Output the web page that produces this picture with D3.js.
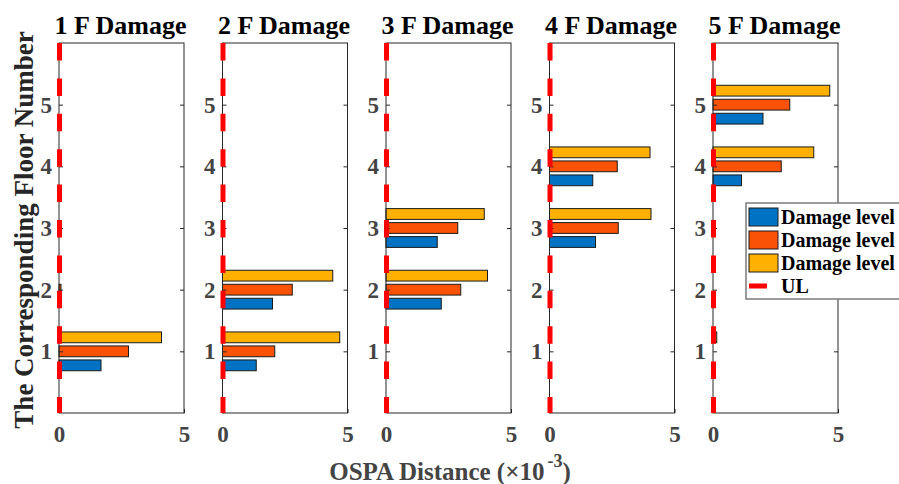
<!DOCTYPE html>
<html>
<head>
<meta charset="utf-8">
<script src="https://cdn.jsdelivr.net/npm/d3@7"></script>
<style>
  body { margin: 0; background: #fff; }
  svg { display: block; }
</style>
</head>
<body>
<div id="chart"></div>
<script>
'use strict';

var width = 899,
    height = 484;

// data
var panelTitles = ['1 F Damage', '2 F Damage', '3 F Damage', '4 F Damage', '5 F Damage'];
var floors = [1, 2, 3, 4, 5];
var levelNames = ['Damage level 1', 'Damage level 2', 'Damage level 3'];
// [panel][floor-1], OSPA distance x 1e-3
var level1 = [
    [1.68, 0, 0, 0, 0],
    [1.35, 2.00, 0, 0, 0],
    [0, 2.21, 2.05, 0, 0],
    [0, 0, 1.84, 1.73, 0],
    [0, 0, 0, 1.14, 2.00]
];
var level2 = [
    [2.78, 0.08, 0, 0, 0],
    [2.09, 2.79, 0, 0, 0],
    [0, 2.99, 2.87, 0, 0],
    [0, 0, 2.75, 2.71, 0],
    [0, 0, 0, 2.73, 3.07]
];
var level3 = [
    [4.10, 0, 0, 0, 0],
    [4.69, 4.41, 0, 0, 0],
    [0, 4.06, 3.93, 0, 0],
    [0, 0, 4.06, 4.02, 0],
    [0.15, 0, 0, 4.03, 4.67]
];
var ulValue = 0;
var xTicks = [0, 5];
var yTicks = [1, 2, 3, 4, 5];

var levels = [level1, level2, level3];
var colors = ['#0072c4', '#fa5206', '#ffb000'];
var serif = '"Liberation Serif", "Times New Roman", serif';

var svg = d3.select('#chart')
    .append('svg')
    .attr('width', width)
    .attr('height', height);

var plotTop = 43,
    plotBottom = 413,
    plotW = 125,
    firstLeft = 59,
    step = 163.5;

var y = d3.scaleLinear().domain([0, 6]).range([plotBottom, plotTop]);
var barOffset = 0.227,
    barH = y(0) - y(0.175);

panelTitles.forEach(function (title, p) {
    var left = firstLeft + p * step;
    var x = d3.scaleLinear().domain([0, 5]).range([left, left + plotW]);

    var g = svg.append('g');

    // bars
    levels.forEach(function (lv, k) {
        g.selectAll('rect.l' + k)
            .data(floors.filter(function (f) { return lv[p][f - 1] > 0; }))
            .enter()
            .append('rect')
            .attr('x', x(0))
            .attr('y', function (f) { return y(f + (k - 1) * barOffset) - barH / 2; })
            .attr('width', function (f) { return x(lv[p][f - 1]) - x(0); })
            .attr('height', barH)
            .attr('fill', colors[k])
            .attr('stroke', '#1a1a1a')
            .attr('stroke-width', 1);
    });

    // box
    g.append('rect')
        .attr('x', left)
        .attr('y', plotTop)
        .attr('width', plotW)
        .attr('height', plotBottom - plotTop)
        .attr('fill', 'none')
        .attr('stroke', '#262626')
        .attr('stroke-width', 1);

    // axes (ticks inside)
    var yl = g.append('g')
        .attr('transform', 'translate(' + left + ',0)')
        .call(d3.axisLeft(y).tickValues(yTicks).tickSize(-4).tickPadding(7).tickFormat(d3.format('d')));
    var yr = g.append('g')
        .attr('transform', 'translate(' + (left + plotW) + ',0)')
        .call(d3.axisRight(y).tickValues(yTicks).tickSize(-4).tickFormat(''));
    var xb = g.append('g')
        .attr('transform', 'translate(0,' + plotBottom + ')')
        .call(d3.axisBottom(x).tickValues(xTicks).tickSize(-4).tickPadding(13).tickFormat(d3.format('d')));

    [yl, yr, xb].forEach(function (a) {
        a.select('.domain').remove();
        a.selectAll('.tick line').attr('stroke', '#262626');
        a.selectAll('.tick text')
            .attr('fill', '#444')
            .style('font-family', serif)
            .style('font-weight', 'bold')
            .style('font-size', '23px');
    });

    // UL line
    g.append('line')
        .attr('x1', x(ulValue) + 0.5)
        .attr('x2', x(ulValue) + 0.5)
        .attr('y1', plotTop)
        .attr('y2', plotBottom)
        .attr('stroke', '#ff0000')
        .attr('stroke-width', 5)
        .attr('stroke-dasharray', '17.5,17.9');

    // title
    g.append('text')
        .attr('x', left + plotW / 2 - 1)
        .attr('y', 34)
        .attr('text-anchor', 'middle')
        .style('font-family', serif)
        .style('font-weight', 'bold')
        .style('font-size', '26px')
        .attr('fill', '#000')
        .text(title);
});

// axis labels
svg.append('text')
    .attr('transform', 'translate(33,' + ((plotTop + plotBottom) / 2 + 2) + ') rotate(-90)')
    .attr('text-anchor', 'middle')
    .style('font-family', serif)
    .style('font-weight', 'bold')
    .style('font-size', '27px')
    .attr('fill', '#262626')
    .text('The Corresponding Floor Number');

var xl = svg.append('text')
    .attr('x', 450)
    .attr('y', 480)
    .attr('text-anchor', 'middle')
    .style('font-family', serif)
    .style('font-weight', 'bold')
    .style('font-size', '25px')
    .attr('fill', '#444');
xl.append('tspan').text('OSPA Distance (\u00d710');
xl.append('tspan').attr('dy', -13).attr('dx', 3).style('font-size', '18px').text('-3');
xl.append('tspan').attr('dy', 13).text(')');

// legend
var lg = svg.append('g').attr('transform', 'translate(746,203)');
lg.append('rect')
    .attr('width', 170)
    .attr('height', 96)
    .attr('fill', '#fff')
    .attr('stroke', '#7a7a7a')
    .attr('stroke-width', 1.5);

var rowY = d3.scaleLinear().domain([0, 3]).range([14, 83]);

levelNames.forEach(function (name, k) {
    lg.append('rect')
        .attr('x', 3)
        .attr('y', rowY(k) - 9)
        .attr('width', 29)
        .attr('height', 18)
        .attr('fill', colors[k])
        .attr('stroke', '#1a1a1a')
        .attr('stroke-width', 1);
    lg.append('text')
        .attr('x', 35)
        .attr('y', rowY(k) + 7)
        .style('font-family', serif)
        .style('font-weight', 'bold')
        .style('font-size', '20px')
        .attr('fill', '#000')
        .text(name);
});
lg.append('line')
    .attr('x1', 3).attr('x2', 21)
    .attr('y1', rowY(3)).attr('y2', rowY(3))
    .attr('stroke', '#ff0000')
    .attr('stroke-width', 5);
lg.append('text')
    .attr('x', 35)
    .attr('y', rowY(3) + 7)
    .style('font-family', serif)
    .style('font-weight', 'bold')
    .style('font-size', '20px')
    .attr('fill', '#000')
    .text('UL');
</script>
</body>
</html>
